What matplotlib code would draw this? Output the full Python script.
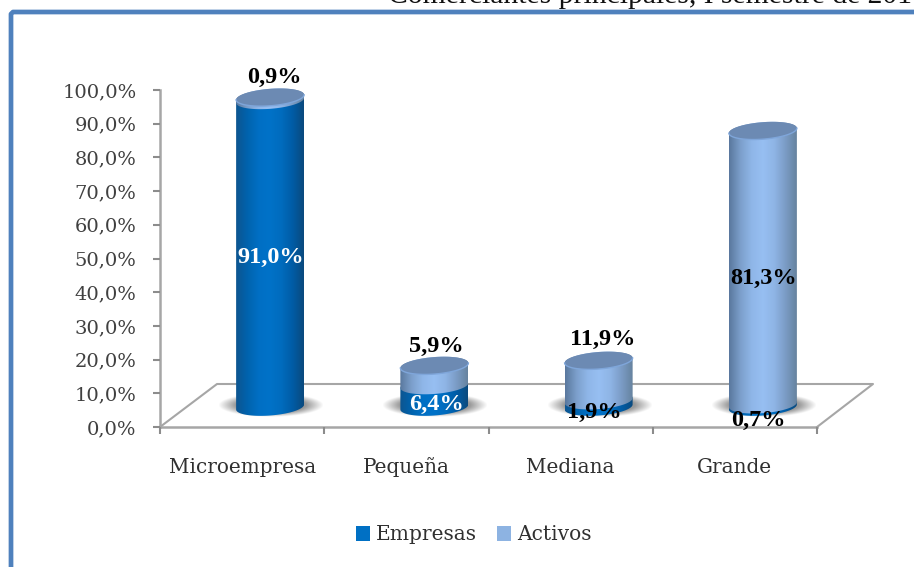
#!/usr/bin/env python3
import numpy as np
import matplotlib; matplotlib.use('Agg')
import matplotlib.pyplot as plt
from matplotlib.lines import Line2D
from matplotlib.patches import Patch, PathPatch, Polygon
from matplotlib.path import Path
from matplotlib.colors import LinearSegmentedColormap

# ---------- donnees ----------
categorias = ['Microempresa', 'Pequeña', 'Mediana', 'Grande']
empresas = [91.0, 6.4, 1.9, 0.7]
activos = [0.9, 5.9, 11.9, 81.3]
y_ticks = [0, 10, 20, 30, 40, 50, 60, 70, 80, 90, 100]

# decalage des etiquettes en pixels par rapport au centre du segment
off_emp = [(1, -4), (2, -8), (-4, -9), (-4, -15)]
off_act = [(4, 21), (2, 29), (4, 41), (1, -11)]

W, H = 914, 567
X0, X1, Y0, Y1 = 160, 817, 427, 90    # axes en pixels image
DX, DY = 57, 43                       # profondeur du plancher (px)
C_EMP = '#0070c4'
C_ACT = '#8db3e2'

fig = plt.figure(figsize=(W / 100, H / 100), dpi=100, facecolor='white')
ax = fig.add_axes([X0 / W, 1 - Y0 / H, (X1 - X0) / W, (Y0 - Y1) / H])
ax.set_xlim(0, 4); ax.set_ylim(0, 100)
ux = (X1 - X0) / 4.; uy = (Y0 - Y1) / 100.   # px par unite


def cap_xy(xc, yc, t):
    """Ellipse legerement inclinee (monte vers la droite)."""
    return xc + 34 / ux * np.cos(t), yc + (8.5 * np.sin(t) + 2.5 * np.cos(t)) / uy


def cylinder(xc, y_low, y_high, cmap, z):
    t_front = np.linspace(np.pi, 2 * np.pi, 60)
    t_back = np.linspace(0, np.pi, 60)
    xa, ya = cap_xy(xc, y_low, t_front)
    xb, yb = cap_xy(xc, y_high, t_back)
    verts = np.column_stack([np.r_[xa, xb], np.r_[ya, yb]])
    verts = np.vstack([verts, verts[0]])
    clip = PathPatch(Path(verts), transform=ax.transData, fc='none', ec='none')
    grad = np.linspace(0, 1, 128)[None, :]
    im = ax.imshow(grad, extent=(xc - 34 / ux, xc + 34 / ux, y_low - 5, y_high + 5),
                   cmap=cmap, aspect='auto', zorder=z, vmin=0, vmax=1)
    im.set_clip_box(fig.bbox)
    im.set_clip_path(clip)


def shadow(xc, yc):
    xs = np.linspace(-1, 1, 120); ys = np.linspace(-1, 1, 60)
    xx, yy = np.meshgrid(xs, ys)
    a = np.clip((1 - np.hypot(xx, yy)) * 2.4, 0, 0.8)
    rgba = np.zeros(a.shape + (4,))
    rgba[..., :3] = 0.5
    rgba[..., 3] = a
    ax.imshow(rgba, extent=(xc - 52 / ux, xc + 54 / ux, yc - 12 / uy, yc + 12 / uy),
              aspect='auto', zorder=2, origin='lower')


cm_emp = LinearSegmentedColormap.from_list('emp', ['#0d5590', '#0063ae', '#006fc4', '#0072c8', '#006cbe', '#005ca6', '#0b4a7e'])
cm_act = LinearSegmentedColormap.from_list('act', ['#5a789e', '#7c9fcb', '#8fb6e8', '#97bff2', '#8fb5e6', '#7b9cc6', '#66839f'])

# ---------- plancher ----------
grey = '#a6a6a6'
floor = [(X0, Y0), (X0 + DX, Y0 - DY), (X0 + DX + X1 - X0 - 1, Y0 - DY), (X1, Y0)]
fx = [(p[0] - X0) / ux for p in floor]; fy = [(Y0 - p[1]) / uy for p in floor]
ax.add_line(Line2D(fx, fy, color=grey, lw=1.5, clip_on=False, zorder=1))

# ---------- cylindres ----------
base_y = (Y0 - 407) / uy
centers = [i + 0.5 + 28 / ux for i in range(4)]
for i, xc in enumerate(centers):
    top_e = base_y + empresas[i]
    top_a = top_e + activos[i]
    shadow(xc, base_y + 0.5)
    cylinder(xc, base_y, top_e, cm_emp, 3)
    cylinder(xc, top_e, top_a, cm_act, 4)
    t = np.linspace(0, 2 * np.pi, 120)
    cx, cy = cap_xy(xc, top_a, t)
    ax.add_patch(Polygon(np.column_stack([cx, cy]), closed=True, fc='#6c8ab3', ec='none',
                         zorder=5, clip_on=False))
    t = np.linspace(np.pi, 2 * np.pi, 60)
    cx, cy = cap_xy(xc, top_a, t)
    ax.plot(cx, cy, color='#7fa6da', lw=1.0, zorder=6, clip_on=False)
    # etiquettes
    ax.annotate(f'{empresas[i]:.1f}%'.replace('.', ','), (xc, base_y + empresas[i] / 2),
                xytext=off_emp[i], textcoords='offset pixels', ha='center', va='center',
                family='Liberation Serif', weight='bold', fontsize=17.5,
                color='white' if i < 2 else 'black', zorder=8, annotation_clip=False)
    ax.annotate(f'{activos[i]:.1f}%'.replace('.', ','), (xc, top_e + activos[i] / 2),
                xytext=off_act[i], textcoords='offset pixels', ha='center', va='center',
                family='Liberation Serif', weight='bold', fontsize=17.5,
                color='black', zorder=8, annotation_clip=False)

ax.set_xlim(0, 4); ax.set_ylim(0, 100)

# ---------- axes ----------
for s in ('top', 'right'):
    ax.spines[s].set_visible(False)
for s in ('left', 'bottom'):
    ax.spines[s].set_color(grey); ax.spines[s].set_linewidth(1.8); ax.spines[s].set_zorder(1.5)
ax.patch.set_alpha(0)
ax.set_yticks(y_ticks)
ax.set_yticklabels([f'{v:.1f}%'.replace('.', ',') for v in y_ticks],
                   family='DejaVu Serif', fontsize=14, color='#404040')
ax.tick_params(axis='y', length=5, width=1.5, color='#8c8c8c', pad=12)
ax.set_xticks(range(5)); ax.set_xticklabels([])
ax.tick_params(axis='x', which='major', length=5, width=1.5, color='#8c8c8c')
ax.set_xticks([i + 0.5 for i in range(4)], minor=True)
ax.set_xticklabels(categorias, minor=True, family='DejaVu Serif', fontsize=14.4, color='#303030')
ax.tick_params(axis='x', which='minor', length=0, pad=33)
for lab in ax.get_xticklabels(minor=True):
    lab.set_verticalalignment('baseline')

# ---------- legende ----------
handles = [Patch(fc=C_EMP, ec='none', label='Empresas'), Patch(fc=C_ACT, ec='none', label='Activos')]
leg = fig.legend(handles=handles, loc='center', bbox_to_anchor=(474 / W, 1 - 535 / H), ncol=2,
                 frameon=False, handlelength=0.7, handleheight=0.75, handletextpad=0.3,
                 columnspacing=1.0, prop={'family': 'DejaVu Serif', 'size': 14.5}, labelcolor='#303030')

# ---------- cadre + titre coupes ----------
fr = Line2D([11 / W, 11 / W, 13 / W, 1.0], [0, 1 - 14 / H, 1 - 12 / H, 1 - 12 / H],
            transform=fig.transFigure, color='#4f81bd', lw=3.4, solid_joinstyle='round')
fig.add_artist(fr)
fig.text(388 / W, 1 - 3 / H, 'Comerciantes principales, I semestre de 201', family='Liberation Serif',
         fontsize=21.3, color='#111111', ha='left', va='baseline')

fig.savefig('out.png', dpi=100)
